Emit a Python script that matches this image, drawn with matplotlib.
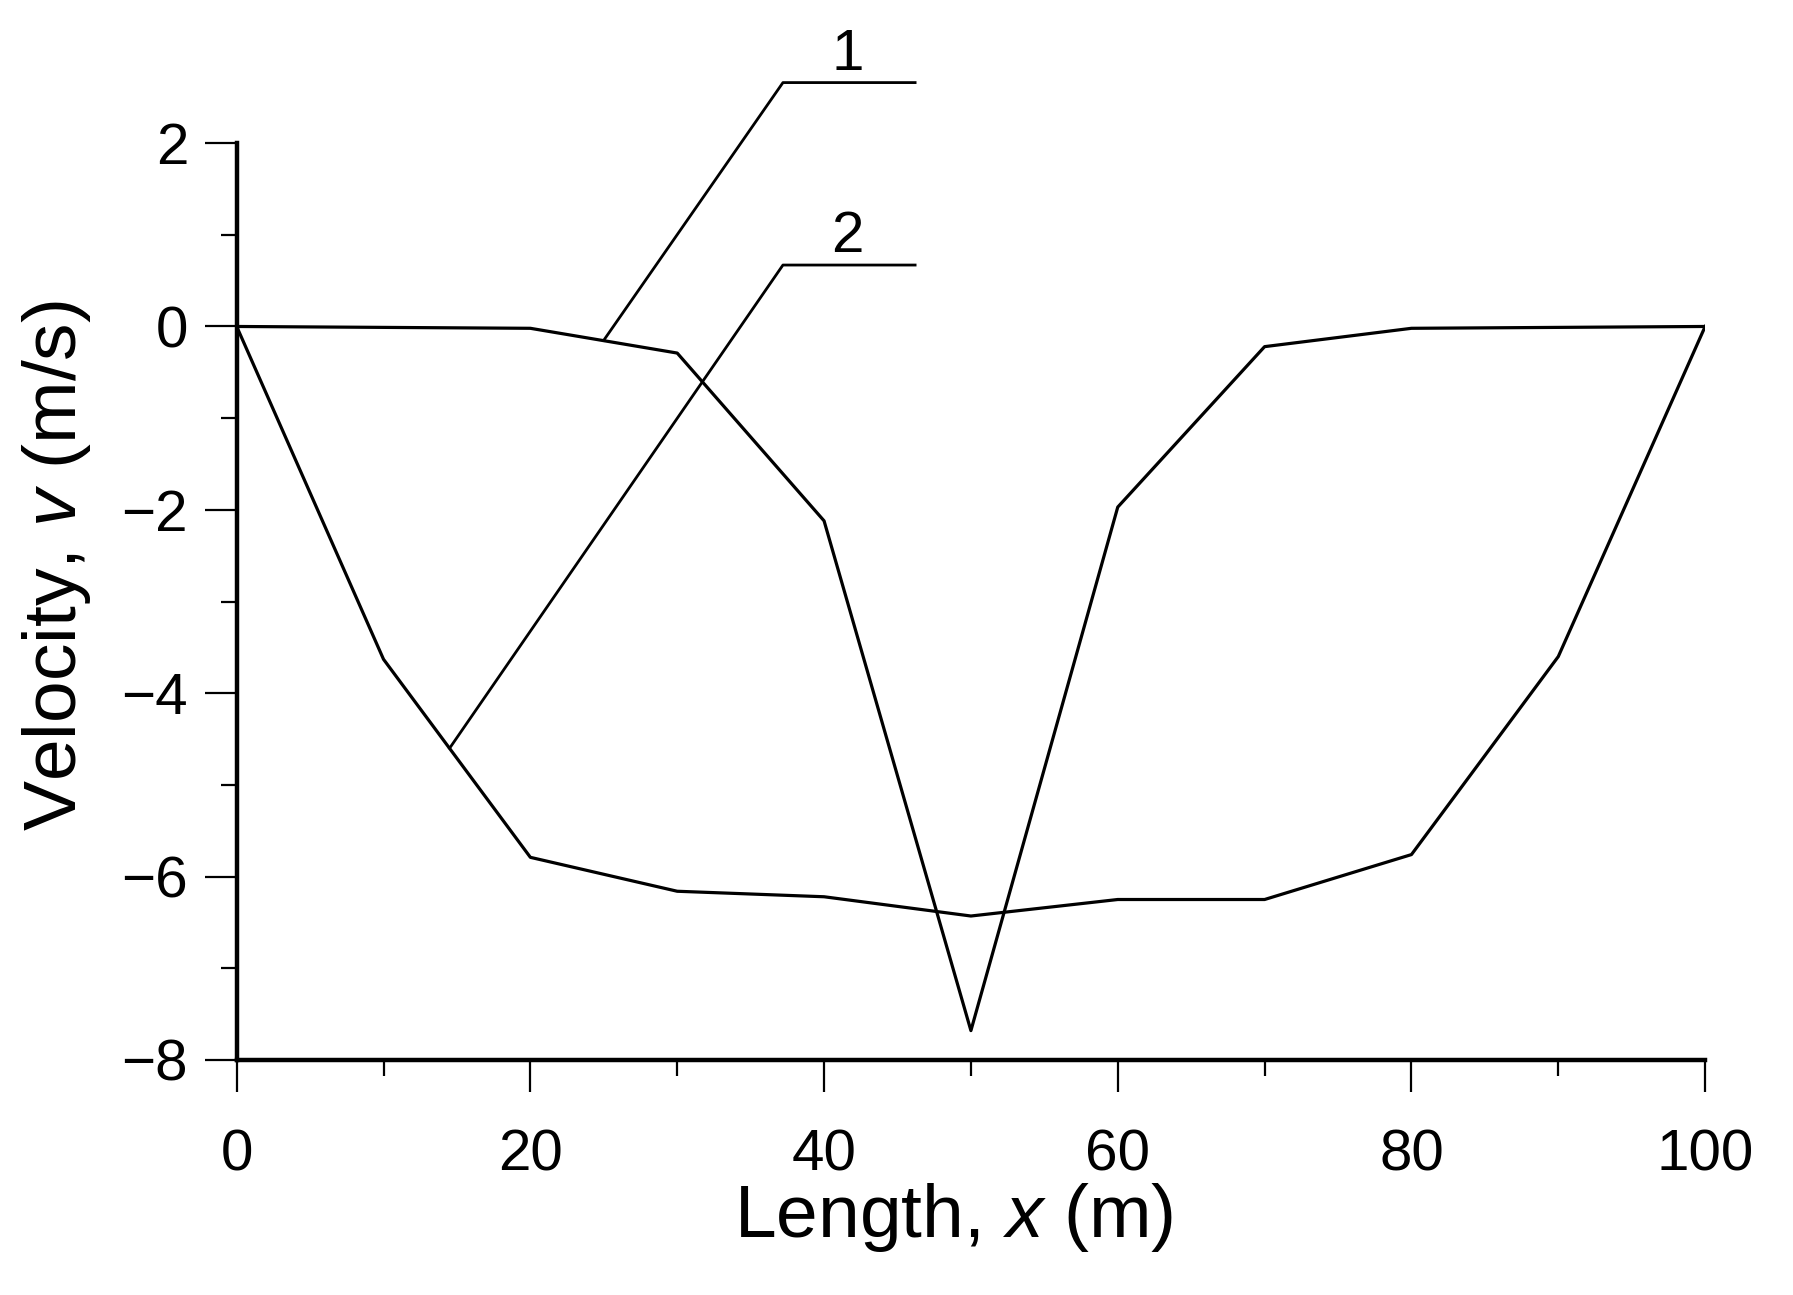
import numpy as np
import matplotlib.pyplot as plt

plt.rcParams['font.family'] = ['Liberation Sans', 'DejaVu Sans']
plt.rcParams['mathtext.fontset'] = 'custom'
plt.rcParams['mathtext.rm'] = 'Liberation Sans'
plt.rcParams['mathtext.it'] = 'Liberation Sans:italic'

# data
x = [0, 10, 20, 30, 40, 50, 60, 70, 80, 90, 100]
v1 = [0, -0.01, -0.02, -0.29, -2.12, -7.68, -1.97, -0.22, -0.02, -0.01, 0]
v2 = [0, -3.63, -5.79, -6.16, -6.22, -6.43, -6.25, -6.25, -5.76, -3.60, 0]

# curve labels: (text, point on curve, elbow, end of shelf)
labels = [
    ("1", (25.0, -0.15), (37.2, 2.66), (46.2, 2.66)),
    ("2", (14.5, -4.60), (37.2, 0.67), (46.2, 0.67)),
]

fig = plt.figure(figsize=(17.93, 12.95), dpi=100)
ax = fig.add_axes([0.132, 0.1815, 0.819, 0.708])

ax.plot(x, v1, color='black', lw=2.3)
ax.plot(x, v2, color='black', lw=2.3)

for txt, p0, p1, p2 in labels:
    ax.plot([p0[0], p1[0], p2[0]], [p0[1], p1[1], p2[1]],
            color='black', lw=2.0, clip_on=False)
    ax.text(41.6, p1[1] + 0.14, txt, fontsize=42,
            ha='center', va='baseline')

ax.set_xlim(0, 100)
ax.set_ylim(-8, 2)
ax.set_xticks(np.arange(0, 101, 20))
ax.set_xticks(np.arange(0, 101, 10), minor=True)
ax.set_yticks(np.arange(-8, 2.1, 2))
ax.set_yticks(np.arange(-8, 2.1, 1), minor=True)

for s in ['top', 'right']:
    ax.spines[s].set_visible(False)
for s in ['left', 'bottom']:
    ax.spines[s].set_linewidth(3.2)

ax.tick_params(which='major', direction='out', length=23, width=1.6, labelsize=42)
ax.tick_params(which='minor', direction='out', length=11.5, width=1.6)
ax.tick_params(axis='x', which='major', pad=26)
ax.tick_params(axis='y', which='major', pad=12)

ax.set_xlabel(r'Length, $x$ (m)', fontsize=54, va='center')
ax.set_ylabel(r'Velocity, $v$ (m/s)', fontsize=54, va='center')
ax.xaxis.set_label_coords(0.488, -0.172)
ax.yaxis.set_label_coords(-0.1226, 0.539)

fig.savefig('out.png', dpi=100, facecolor='white')
